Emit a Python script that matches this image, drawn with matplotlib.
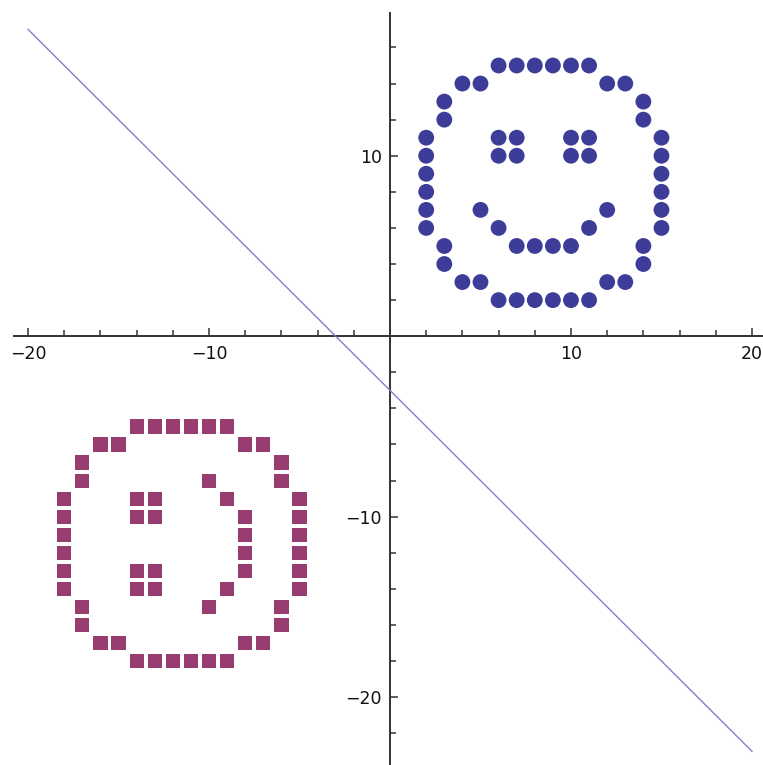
import matplotlib.pyplot as plt
from matplotlib.ticker import FixedLocator

# Class 1 (circles): face outline, eyes and smile
blue_x = [6, 7, 8, 9, 10, 11,
          4, 5, 12, 13,
          3, 14, 3, 14,
          2, 15, 2, 15, 2, 15, 2, 15, 2, 15, 2, 15,
          3, 14, 3, 14,
          4, 5, 12, 13,
          6, 7, 8, 9, 10, 11,
          6, 7, 10, 11, 6, 7, 10, 11,
          5, 12, 6, 11, 7, 8, 9, 10]
blue_y = [15, 15, 15, 15, 15, 15,
          14, 14, 14, 14,
          13, 13, 12, 12,
          11, 11, 10, 10, 9, 9, 8, 8, 7, 7, 6, 6,
          5, 5, 4, 4,
          3, 3, 3, 3,
          2, 2, 2, 2, 2, 2,
          11, 11, 11, 11, 10, 10, 10, 10,
          7, 7, 6, 6, 5, 5, 5, 5]

# Class 2 (squares): face outline, eyes and mouth
red_x = [-14, -13, -12, -11, -10, -9,
         -16, -15, -8, -7,
         -17, -6, -17, -6,
         -18, -5, -18, -5, -18, -5, -18, -5, -18, -5, -18, -5,
         -17, -6, -17, -6,
         -16, -15, -8, -7,
         -14, -13, -12, -11, -10, -9,
         -14, -13, -14, -13, -14, -13, -14, -13,
         -10, -9, -8, -8, -8, -8, -9, -10]
red_y = [-5, -5, -5, -5, -5, -5,
         -6, -6, -6, -6,
         -7, -7, -8, -8,
         -9, -9, -10, -10, -11, -11, -12, -12, -13, -13, -14, -14,
         -15, -15, -16, -16,
         -17, -17, -17, -17,
         -18, -18, -18, -18, -18, -18,
         -9, -9, -10, -10, -13, -13, -14, -14,
         -8, -9, -10, -11, -12, -13, -14, -15]

# separating line
line_x = [-20, 20]
line_y = [17, -23]

x_major = [-20, -10, 10, 20]
y_major = [-20, -10, 10]
x_minor = [-18, -16, -14, -12, -8, -6, -4, -2, 2, 4, 6, 8, 12, 14, 16, 18]
y_minor = [-22, -18, -16, -14, -12, -8, -6, -4, -2, 2, 4, 6, 8, 12, 14, 16]

fig = plt.figure(figsize=(7.63, 7.65), dpi=100)
ax = fig.add_axes([0, 0, 1, 1])

ax.plot(line_x, line_y, color="#8080cc", lw=1.0, zorder=2)
ax.scatter(blue_x, blue_y, s=130, marker="o", color="#3d3d99",
           edgecolors="none", zorder=3)
ax.scatter(red_x, red_y, s=104, marker="s", color="#993d71",
           edgecolors="none", zorder=3)

ax.set_xlim(-21.55, 20.61)
ax.set_ylim(-23.76, 18.63)

# axes through the origin
for side in ("top", "right"):
    ax.spines[side].set_visible(False)
ax.spines["bottom"].set_position(("data", 0))
ax.spines["left"].set_position(("data", 0))
ax.spines["bottom"].set_bounds(-20.8, 21)
ax.spines["left"].set_bounds(-24, 17.9)
for side in ("bottom", "left"):
    ax.spines[side].set_linewidth(1.4)
    ax.spines[side].set_color("#333333")
    ax.spines[side].set_zorder(1)

ax.xaxis.set_major_locator(FixedLocator(x_major))
ax.yaxis.set_major_locator(FixedLocator(y_major))
ax.xaxis.set_minor_locator(FixedLocator(x_minor))
ax.yaxis.set_minor_locator(FixedLocator(y_minor))
ax.set_xticklabels([f"\u2212{-v}" if v < 0 else str(v) for v in x_major])
ax.set_yticklabels([f"\u2212{-v}" if v < 0 else str(v) for v in y_major])

ax.tick_params(which="both", direction="in", color="#333333", width=1.1,
               labelsize=12.5, labelcolor="#111111")
ax.tick_params(which="major", length=6)
ax.tick_params(which="minor", length=4)
ax.tick_params(axis="x", which="major", pad=6)
ax.tick_params(axis="y", which="major", pad=6)

ax.set_facecolor("white")
fig.savefig("out.png", dpi=100, facecolor="white")
